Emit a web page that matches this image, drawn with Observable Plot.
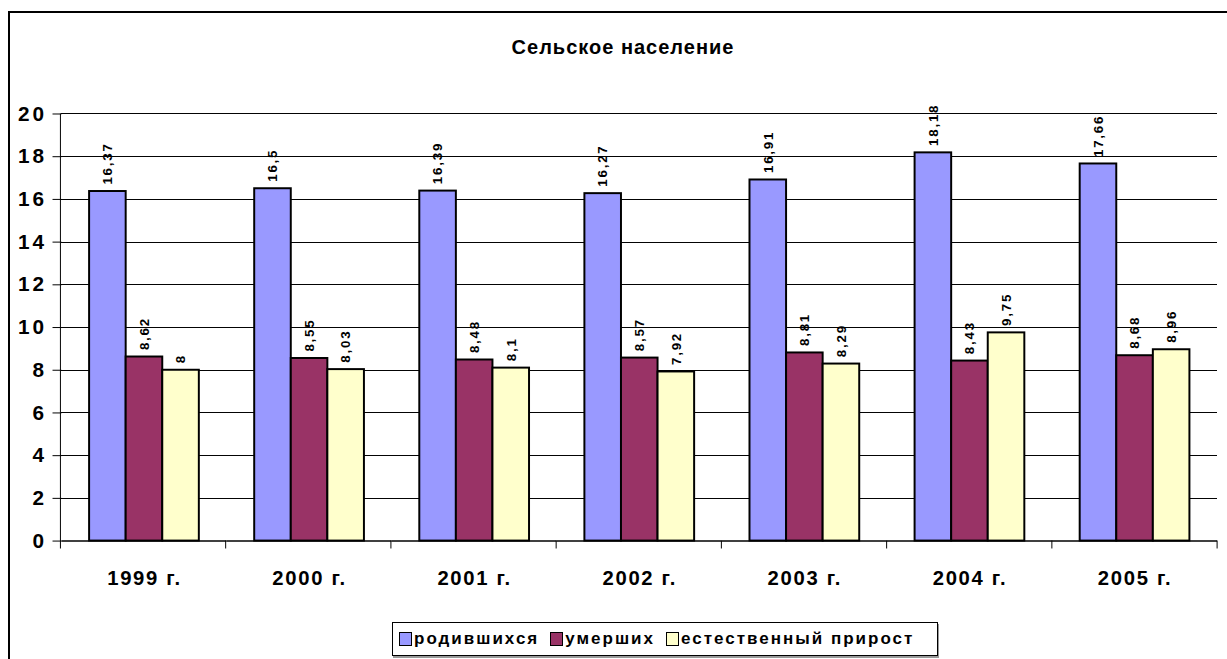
<!DOCTYPE html>
<html>
<head>
<meta charset="utf-8">
<script src="https://cdn.jsdelivr.net/npm/d3@7"></script>
<script src="https://cdn.jsdelivr.net/npm/@observablehq/plot@0.6"></script>
<style>
  html, body { margin: 0; padding: 0; background: #fff; overflow: hidden; width: 1227px; height: 659px; }
  body { font-family: "Liberation Sans", Arial, sans-serif; position: relative; }
  #frame { position: absolute; left: 8px; top: 11px; width: 1300px; height: 720px;
           border-top: 2px solid #000; border-left: 2px solid #000; box-sizing: border-box; }
  #title { position: absolute; left: 423px; width: 400px; top: 36px; text-align: center;
           font-weight: bold; font-size: 20px; letter-spacing: 1px; color: #000; }
  #chart { position: absolute; left: 10px; top: 70px; }
  #legend { position: absolute; left: 392px; top: 622px; width: 546px; height: 34px; box-sizing: border-box;
            border: 1px solid #000; box-shadow: 1px 2px 0 #999; background: #fff;
            display: flex; align-items: center; padding-left: 6px; }
  .item { display: flex; align-items: center; margin-right: 11px; }
  .sw { width: 11px; height: 12px; border: 1.5px solid #000; margin-right: 2px; }
  .lab { font-weight: bold; font-size: 17px; letter-spacing: 2px; }
</style>
</head>
<body>
<div id="frame"></div>
<div id="title">Сельское население</div>
<div id="chart"></div>
<div id="legend"></div>
<script>
const years = ["1999 г.", "2000 г.", "2001 г.", "2002 г.", "2003 г.", "2004 г.", "2005 г."];
const series = ["родившихся", "умерших", "естественный прирост"];
const born = [16.37, 16.5, 16.39, 16.27, 16.91, 18.18, 17.66];
const died = [8.62, 8.55, 8.48, 8.57, 8.81, 8.43, 8.68];
const growth = [8, 8.03, 8.1, 7.92, 8.29, 9.75, 8.96];
const colors = ["#9999FF", "#993366", "#FFFFCC"];
const yTicks = [0, 2, 4, 6, 8, 10, 12, 14, 16, 18, 20];

const seriesValues = [born, died, growth];
const rows = [];
years.forEach((yr, i) => {
  series.forEach((s, j) => rows.push({year: yr, series: s, value: seriesValues[j][i]}));
});
const fmt = v => String(v).replace(".", ",");

const chart = Plot.plot({
  width: 1231,
  height: 531,
  marginLeft: 51,
  marginRight: 10,
  marginTop: 44,
  marginBottom: 55,
  style: {fontFamily: '"Liberation Sans", Arial, sans-serif', fontSize: "18px", fontWeight: "bold", color: "#000", background: "transparent"},
  facet: {data: rows, x: "year"},
  fx: {domain: years, padding: 0, axis: "bottom", tickSize: 0, tickPadding: 30, label: null},
  x: {domain: series, paddingInner: 0, paddingOuter: 0.73, axis: null},
  y: {domain: [0, 20], ticks: yTicks, tickSize: 9, tickPadding: 6, label: null, tickFormat: d => String(d)},
  color: {domain: series, range: colors},
  marks: [
    Plot.ruleY(yTicks.filter(d => d > 0), {stroke: "#000", strokeWidth: 1, shapeRendering: "crispEdges"}),
    Plot.barY(rows, {x: "series", y: "value", fill: "series", stroke: "#000", strokeWidth: 2}),
    Plot.ruleY([0], {stroke: "#000", strokeWidth: 1.5}),
    Plot.text(rows, {x: "series", y: "value", text: d => fmt(d.value), rotate: -90, textAnchor: "start",
                     lineAnchor: "middle", dy: -7, fontSize: 13.5, fontWeight: "bold", fill: "#000"})
  ]
});

// value label spacing (Excel-like tracking)
d3.select(chart).selectAll('g[aria-label="text"] text').style("letter-spacing", "1.8px");
// axis tick label styling
d3.select(chart).selectAll('g[aria-label^="y-axis"] text').style("font-size", "21px").style("letter-spacing", "3px");
d3.select(chart).selectAll('g[aria-label^="fx-axis"] text').style("font-size", "20.5px").style("letter-spacing", "1.7px");

// axis line and category boundary ticks, placed with the plot's own scales
const fxS = chart.scale("fx");
const yS = chart.scale("y");
const yPix = v => yS.range[0] + (v - yS.domain[0]) / (yS.domain[1] - yS.domain[0]) * (yS.range[1] - yS.range[0]);
const step = (fxS.range[1] - fxS.range[0]) / fxS.domain.length;
const g = d3.select(chart).append("g").attr("stroke", "#000").attr("stroke-width", 1);
g.append("line").attr("x1", fxS.range[0]).attr("x2", fxS.range[0])
  .attr("y1", yPix(20)).attr("y2", yPix(0) + 8);
for (let i = 1; i <= fxS.domain.length; i++) {
  const x = fxS.range[0] + i * step;
  g.append("line").attr("x1", x).attr("x2", x).attr("y1", yPix(0)).attr("y2", yPix(0) + 8);
}

document.getElementById("chart").appendChild(chart);

const legend = document.getElementById("legend");
series.forEach((s, j) => {
  const it = document.createElement("div"); it.className = "item";
  const sw = document.createElement("div"); sw.className = "sw"; sw.style.background = colors[j];
  const lb = document.createElement("span"); lb.className = "lab"; lb.textContent = s;
  it.appendChild(sw); it.appendChild(lb); legend.appendChild(it);
});
</script>
</body>
</html>
